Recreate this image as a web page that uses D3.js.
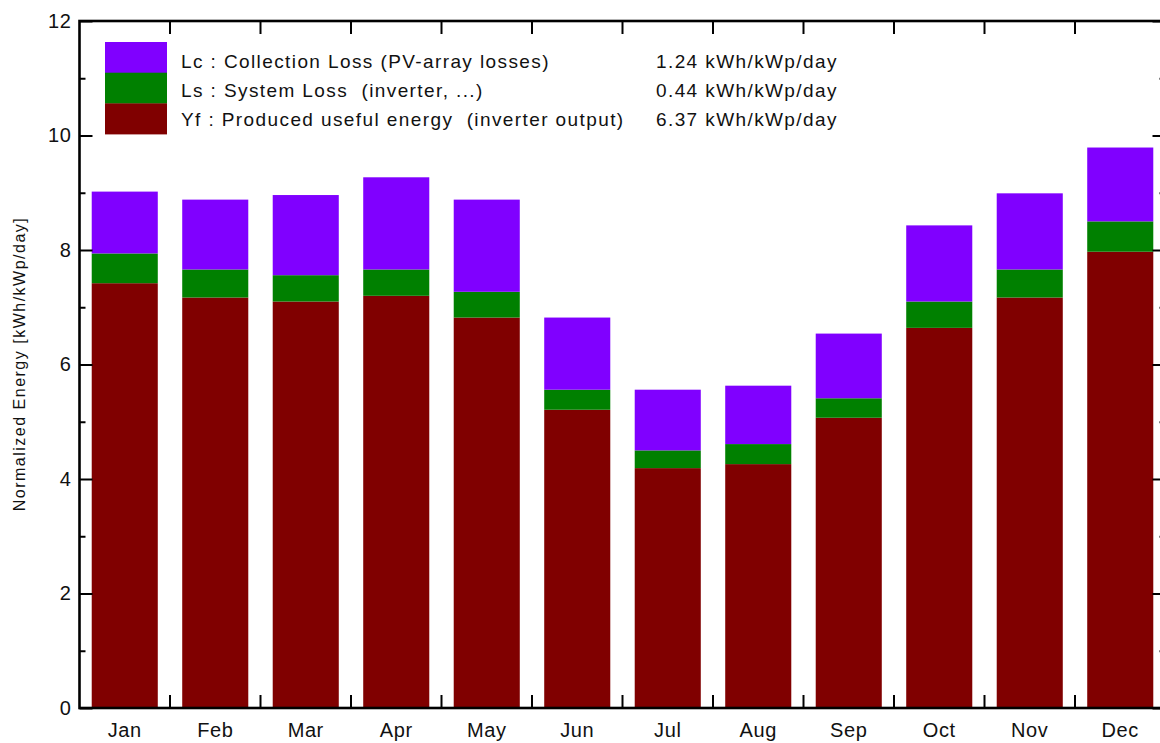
<!DOCTYPE html>
<html>
<head>
<meta charset="utf-8">
<script src="https://cdn.jsdelivr.net/npm/d3@7"></script>
<style>
  html, body { margin: 0; padding: 0; background: #fff; }
  svg { display: block; font-family: "Liberation Sans", Arial, sans-serif; }
  text { white-space: pre; }
</style>
</head>
<body>
<svg id="chart" width="1160" height="743"></svg>
<script>
// ---- data ----
const months = ["Jan","Feb","Mar","Apr","May","Jun","Jul","Aug","Sep","Oct","Nov","Dec"];
const yf = [7.42, 7.17, 7.10, 7.20, 6.82, 5.21, 4.19, 4.26, 5.07, 6.64, 7.17, 7.97];
const ls = [0.52, 0.49, 0.46, 0.46, 0.45, 0.35, 0.31, 0.35, 0.34, 0.46, 0.49, 0.53];
const lc = [1.08, 1.22, 1.40, 1.61, 1.61, 1.26, 1.06, 1.02, 1.13, 1.33, 1.33, 1.29];
const majorTicks = [0, 2, 4, 6, 8, 10, 12];
const minorTicks = [1, 3, 5, 7, 9, 11];
const legendLabels = [
  "Lc : Collection Loss (PV-array losses)",
  "Ls : System Loss  (inverter, ...)",
  "Yf : Produced useful energy  (inverter output)"
];
const legendValues = ["1.24 kWh/kWp/day", "0.44 kWh/kWp/day", "6.37 kWh/kWp/day"];
const seriesKeys = ["yf", "ls", "lc"];
const colors = { lc: "#8000ff", ls: "#008000", yf: "#800000" };
const yTitle = "Normalized Energy [kWh/kWp/day]";

// ---- layout ----
const svg = d3.select("#chart");
const pL = 79.5, pR = 1165.5, pT = 21, pB = 708;

const x = d3.scaleBand().domain(months).range([pL, pR])
  .paddingInner(0.27).paddingOuter(0.135);
const y = d3.scaleLinear().domain([0, 12]).range([pB, pT]);

const table = months.map((m, i) => ({ month: m, yf: yf[i], ls: ls[i], lc: lc[i] }));
const stacked = d3.stack().keys(seriesKeys)(table);

// bars
svg.append("g").selectAll("g").data(stacked).join("g")
  .attr("fill", d => colors[d.key])
  .selectAll("rect").data(d => d).join("rect")
  .attr("x", d => x(d.data.month))
  .attr("width", x.bandwidth())
  .attr("y", d => y(d[1]))
  .attr("height", d => y(d[0]) - y(d[1]));

// frame
svg.append("rect")
  .attr("x", pL).attr("y", pT)
  .attr("width", pR - pL).attr("height", pB - pT)
  .attr("fill", "none").attr("stroke", "#000").attr("stroke-width", 2.6);

const tickStyle = g => {
  g.select(".domain").remove();
  g.selectAll(".tick line").attr("stroke", "#000").attr("stroke-width", 2);
  g.selectAll("text").attr("fill", "#111").style("font-size", "20px").style("letter-spacing", "0.6px");
};

// left axis major + minor
svg.append("g").attr("transform", `translate(${pL},0)`)
  .call(d3.axisLeft(y).tickValues(majorTicks).tickSize(-13).tickPadding(8).tickFormat(d3.format("d")))
  .call(tickStyle);
svg.append("g").attr("transform", `translate(${pL},0)`)
  .call(d3.axisLeft(y).tickValues(minorTicks).tickSize(-6).tickFormat(""))
  .call(tickStyle);
// right axis major + minor
svg.append("g").attr("transform", `translate(${pR},0)`)
  .call(d3.axisRight(y).tickValues(majorTicks).tickSize(-13).tickFormat(""))
  .call(tickStyle);
svg.append("g").attr("transform", `translate(${pR},0)`)
  .call(d3.axisRight(y).tickValues(minorTicks).tickSize(-6).tickFormat(""))
  .call(tickStyle);

// category boundary ticks (top & bottom)
const boundaries = months.slice(1).map(m => x(m) - x.step() * x.paddingInner() / 2);
svg.append("g").selectAll("line").data(boundaries).join("line")
  .attr("x1", d => d).attr("x2", d => d)
  .attr("y1", pT).attr("y2", pT + 13)
  .attr("stroke", "#000").attr("stroke-width", 2);
svg.append("g").selectAll("line").data(boundaries).join("line")
  .attr("x1", d => d).attr("x2", d => d)
  .attr("y1", pB).attr("y2", pB - 13)
  .attr("stroke", "#000").attr("stroke-width", 2);

// month labels
svg.append("g").attr("transform", `translate(0,${pB})`)
  .call(d3.axisBottom(x).tickSize(0).tickPadding(15))
  .call(tickStyle);

// y title
svg.append("text")
  .attr("transform", `translate(25,364) rotate(-90)`)
  .attr("text-anchor", "middle")
  .style("font-size", "16px").style("letter-spacing", "1.5px")
  .attr("fill", "#111")
  .text(yTitle);

// legend
const legendKeys = ["lc", "ls", "yf"];
const lg = svg.append("g");
const boxTop = 42, rowH = 30.7;
lg.selectAll("rect").data(legendKeys).join("rect")
  .attr("x", 105).attr("width", 62)
  .attr("y", (d, i) => boxTop + i * rowH).attr("height", rowH + 0.3)
  .attr("fill", d => colors[d]);
lg.selectAll("text.lab").data(legendLabels).join("text").attr("class", "lab")
  .attr("x", 181).attr("y", (d, i) => 67.5 + i * 29)
  .attr("fill", "#111").style("font-size", "19px").style("letter-spacing", "1.4px")
  .text(d => d);
lg.selectAll("text.val").data(legendValues).join("text").attr("class", "val")
  .attr("x", 656).attr("y", (d, i) => 67.5 + i * 29)
  .attr("fill", "#111").style("font-size", "19px").style("letter-spacing", "1.4px")
  .text(d => d);
</script>
</body>
</html>
